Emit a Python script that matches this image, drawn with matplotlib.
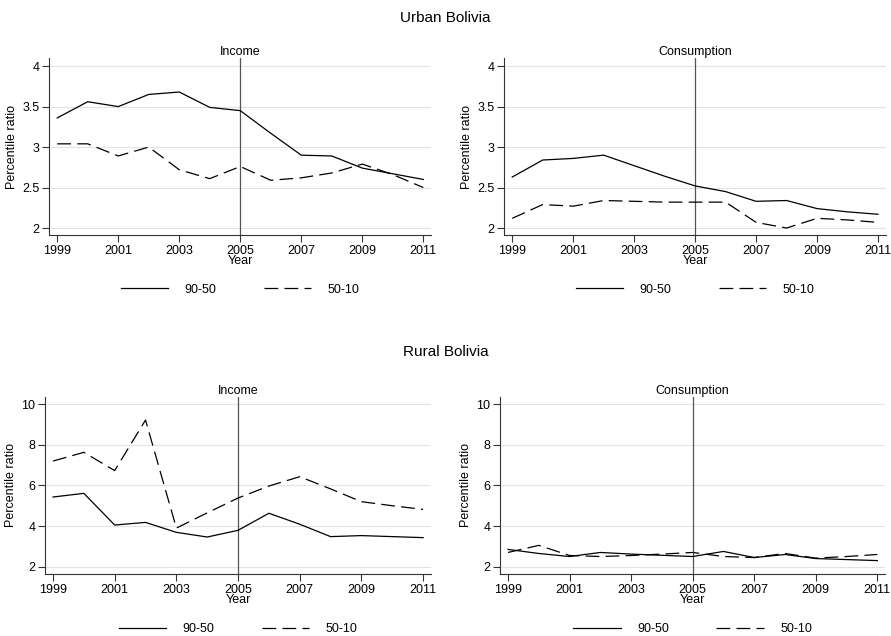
import matplotlib
matplotlib.use('Agg')
import matplotlib.pyplot as plt

plt.rcParams['font.family'] = ['Liberation Sans', 'DejaVu Sans']

years = list(range(1999, 2012))

# Urban Bolivia
urban_inc_9050 = [3.36, 3.56, 3.50, 3.65, 3.68, 3.49, 3.45, 3.17, 2.90, 2.89, 2.74, 2.67, 2.60]
urban_inc_5010 = [3.04, 3.04, 2.89, 3.00, 2.72, 2.61, 2.76, 2.59, 2.62, 2.68, 2.79, 2.66, 2.50]
urban_con_9050 = [2.63, 2.84, 2.86, 2.90, 2.77, 2.64, 2.52, 2.45, 2.33, 2.34, 2.24, 2.20, 2.17]
urban_con_5010 = [2.12, 2.29, 2.27, 2.34, 2.33, 2.32, 2.32, 2.32, 2.07, 2.00, 2.12, 2.10, 2.07]

# Rural Bolivia
rural_inc_9050 = [5.43, 5.61, 4.05, 4.18, 3.69, 3.46, 3.79, 4.63, 4.09, 3.48, 3.53, 3.48, 3.43]
rural_inc_5010 = [7.20, 7.63, 6.73, 9.22, 3.90, 4.65, 5.38, 5.97, 6.43, 5.83, 5.20, 5.00, 4.82]
rural_con_9050 = [2.85, 2.65, 2.50, 2.70, 2.62, 2.56, 2.50, 2.75, 2.45, 2.60, 2.40, 2.35, 2.30]
rural_con_5010 = [2.70, 3.05, 2.55, 2.50, 2.55, 2.62, 2.70, 2.50, 2.45, 2.65, 2.42, 2.50, 2.60]

xticks = [1999, 2001, 2003, 2005, 2007, 2009, 2011]
urban_yticks = [2, 2.5, 3, 3.5, 4]
urban_ylabels = ['2', '2.5', '3', '3.5', '4']
rural_yticks = [2, 4, 6, 8, 10]

fig = plt.figure(figsize=(8.91, 6.36), dpi=100)

panels = [
    # rect, title, a, b, ylim, yticks, ylabels
    ([0.0553, 0.6305, 0.4284, 0.2783], 'Income', urban_inc_9050, urban_inc_5010,
     (1.914, 4.10), urban_yticks, urban_ylabels),
    ([0.5660, 0.6305, 0.4280, 0.2783], 'Consumption', urban_con_9050, urban_con_5010,
     (1.914, 4.10), urban_yticks, urban_ylabels),
    ([0.0505, 0.0975, 0.4330, 0.2788], 'Income', rural_inc_9050, rural_inc_5010,
     (1.64, 10.37), rural_yticks, [str(t) for t in rural_yticks]),
    ([0.5612, 0.0975, 0.4321, 0.2788], 'Consumption', rural_con_9050, rural_con_5010,
     (1.64, 10.37), rural_yticks, [str(t) for t in rural_yticks]),
]

for rect, title, s1, s2, ylim, yt, yl in panels:
    ax = fig.add_axes(rect)
    for y in yt:
        ax.axhline(y, color='#e3e3e3', lw=0.8, zorder=0)
    ax.axvline(2005, color='#555555', lw=0.9, zorder=1)
    ax.plot(years, s1, color='black', lw=0.9, label='90-50', zorder=3)
    ax.plot(years, s2, color='black', lw=0.9, dashes=(11, 5), label='50-10', zorder=3)
    ax.set_xlim(1998.74, 2011.25)
    ax.set_ylim(*ylim)
    ax.set_xticks(xticks)
    ax.set_yticks(yt)
    ax.set_yticklabels(yl)
    ax.tick_params(labelsize=9, length=5, width=0.8, color='#333333', pad=2)
    for side in ['top', 'right']:
        ax.spines[side].set_visible(False)
    for side in ['left', 'bottom']:
        ax.spines[side].set_color('#333333')
        ax.spines[side].set_linewidth(0.8)
    ax.set_xlabel('Year', fontsize=9, labelpad=-1)
    ax.set_ylabel('Percentile ratio', fontsize=9, labelpad=3)
    ax.set_title(title, fontsize=9, pad=2)
    ax.legend(loc='center', bbox_to_anchor=(0.5, -0.31), ncol=2, frameon=False,
              fontsize=9, handlelength=3.8, handletextpad=1.3, columnspacing=3.8)

fig.text(0.5, 1 - 18 / 636, 'Urban Bolivia', ha='center', va='center', fontsize=11)
fig.text(0.5, 1 - 352 / 636, 'Rural Bolivia', ha='center', va='center', fontsize=11)

fig.savefig('out.png', dpi=100)
